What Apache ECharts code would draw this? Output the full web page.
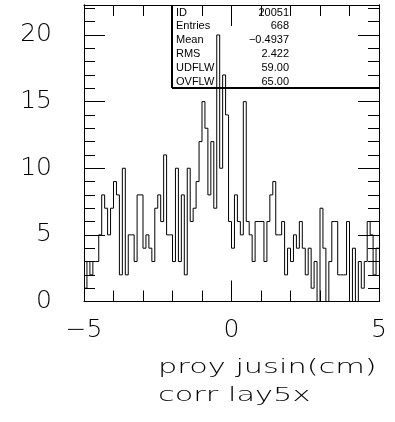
<!DOCTYPE html>
<html><head><meta charset="utf-8">
<script src="https://cdn.jsdelivr.net/npm/echarts@6/dist/echarts.min.js"></script>
<style>html,body{margin:0;padding:0;background:#fff}#c{width:395px;height:422px}</style>
</head><body><div id="c"></div>
<script>
// histogram: 100 bins from -5 to 5
const binLow = -5;
const binWidth = 0.1;
const counts = [
  1,3,2,3,3,5,8,7,5,7,
  9,8,2,10,2,5,5,3,8,8,
  4,5,4,3,7,8,6,11,5,5,
  3,10,3,8,2,10,6,7,9,12,
  15,13,8,12,7,20,10,17,14,6,
  4,8,6,5,15,6,5,3,6,6,
  6,3,6,8,9,5,5,6,2,4,
  3,5,4,6,4,2,4,1,3,0,
  7,4,0,3,6,6,2,2,2,6,
  0,4,0,3,1,3,6,5,2,4
];
const xTickLabels = [-5, 0, 5];
const yTickLabels = [0, 5, 10, 15, 20];
const statLabels = ['ID', 'Entries', 'Mean', 'RMS', 'UDFLW', 'OVFLW'];
const statValues = ['20051', '668', '\u22120.4937', '2.422', '59.00', '65.00'];
const titleLines = ['proy jusin(cm)', 'corr lay5x'];

const xMin = -5, xMax = 5, yMin = 0, yMax = 22.25;

const data = counts.map((c, i) => [binLow + i * binWidth, c]);
data.push([binLow + counts.length * binWidth, counts[counts.length - 1]]);

const fmtX = v => xTickLabels.indexOf(v) >= 0 ? (v < 0 ? '\u2212' + Math.abs(v) : String(v)) : '';
const fmtY = v => yTickLabels.indexOf(v) >= 0 ? String(v) : '';

const black = '#000';
const labelFont = {fontFamily: 'DejaVu Sans', fontWeight: 200, fontSize: 25, color: black};

function xAx(pos, show) {
  return {
    type: 'value', position: pos, min: xMin, max: xMax, interval: 5,
    axisLine: {show: true, onZero: false, lineStyle: {color: black, width: 1}},
    axisTick: {show: true, inside: true, length: 21, lineStyle: {color: black}},
    minorTick: {show: true, splitNumber: 5, length: 11, lineStyle: {color: black}},
    splitLine: {show: false}, minorSplitLine: {show: false},
    axisLabel: Object.assign({show: show, margin: 16, formatter: fmtX}, labelFont)
  };
}
function yAx(pos, interval, len, show) {
  return {
    type: 'value', position: pos, min: yMin, max: yMax, interval: interval,
    axisLine: {show: true, onZero: false, lineStyle: {color: black, width: 1}},
    axisTick: {show: true, inside: true, length: len, lineStyle: {color: black}},
    splitLine: {show: false},
    axisLabel: Object.assign({show: show, margin: 32, formatter: fmtY}, labelFont)
  };
}

const graphics = [];
graphics.push({type: 'line', shape: {x1: 172, y1: 5, x2: 172, y2: 88}, style: {stroke: black, lineWidth: 2}});
graphics.push({type: 'line', shape: {x1: 172, y1: 88, x2: 379, y2: 88}, style: {stroke: black, lineWidth: 2}});
statLabels.forEach((s, i) => {
  const y = 12.5 + i * 13.8;
  graphics.push({type: 'text', x: 176, y: y, style: {text: s, fill: black, font: '11px "Liberation Sans"', textAlign: 'left', textVerticalAlign: 'middle'}});
  graphics.push({type: 'text', x: 289, y: y, style: {text: statValues[i], fill: black, font: '11px "Liberation Sans"', textAlign: 'right', textVerticalAlign: 'middle'}});
});
titleLines.forEach((t, i) => {
  graphics.push({type: 'text', x: 158, y: 368 + i * 28, scaleX: 1.52, scaleY: 1,
    style: {text: t, fill: black, font: '200 20px "DejaVu Sans"', textAlign: 'left', textVerticalAlign: 'middle'}});
});

const chart = echarts.init(document.getElementById('c'), null, {renderer: 'canvas'});
chart.setOption({
  animation: false,
  backgroundColor: '#fff',
  grid: {left: 84, top: 5, width: 295, height: 296.5, containLabel: false},
  xAxis: [xAx('bottom', true), xAx('top', false)],
  yAxis: [yAx('left', 5, 21, true), yAx('left', 1, 11, false), yAx('right', 5, 21, false), yAx('right', 1, 11, false)],
  series: [{
    type: 'line', step: 'end', data: data, xAxisIndex: 0, yAxisIndex: 0,
    symbol: 'none', lineStyle: {color: black, width: 1}, silent: true
  }],
  graphic: graphics
});
</script></body></html>
